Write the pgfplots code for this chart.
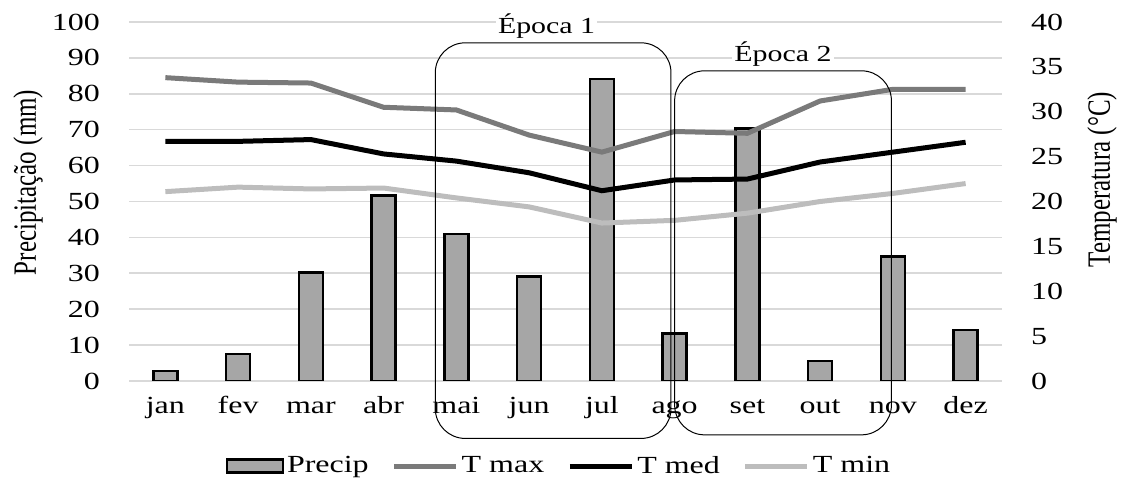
\documentclass[border=0pt]{standalone}
\usepackage{pgfplots}
\usepackage{pgfplotstable}
\pgfplotsset{compat=1.18}
\usepackage{fontspec}
\setmainfont[FakeStretch=1.3]{Liberation Serif}
\newfontfamily\plainfont{Liberation Serif}
\definecolor{barfill}{HTML}{A6A6A6}
\definecolor{tmax}{HTML}{7A7A7A}
\definecolor{tmin}{HTML}{BDBDBD}
\definecolor{gridc}{HTML}{D9D9D9}

\pgfplotstableread{
x precip tmax tmed tmin
0 2.8 33.8 26.7 21.1
1 7.5 33.3 26.7 21.6
2 30.2 33.2 26.9 21.4
3 51.6 30.5 25.3 21.5
4 40.9 30.2 24.5 20.4
5 29.1 27.4 23.2 19.4
6 84.1 25.5 21.2 17.6
7 13.3 27.8 22.4 17.9
8 70.4 27.6 22.5 18.7
9 5.6 31.2 24.4 20.0
10 34.6 32.5 25.5 20.9
11 14.2 32.5 26.6 22.0
}\datatable

\newcommand\tfont{\fontsize{12.3bp}{14bp}\selectfont}
\newcommand\lfont{\plainfont\fontsize{12.5bp}{14bp}\selectfont}

\pgfplotsset{common/.style={
  scale only axis, width=436.5bp, height=179.5bp,
  at={(64.5bp,50.5bp)}, anchor=south west,
  xmin=-0.5, xmax=11.5,
  axis line style={draw=none}, major tick length=0pt,
  tick label style={font=\tfont},
  /pgf/number format/assume math mode=true,
}}

\begin{document}
\begin{tikzpicture}
\useasboundingbox (0,0) rectangle (563bp,241bp);
\begin{axis}[common,
  ymin=0, ymax=100, ytick={0,10,...,100},
  xtick={0,...,11},
  xticklabels={jan,fev,mar,abr,mai,jun,jul,ago,set,out,nov,dez},
  xticklabel style={anchor=base, yshift=-16bp},
  yticklabel style={xshift=-11bp},
  ymajorgrids, grid style={gridc, line width=0.8bp},
  ylabel={\scalebox{1}[1.3]{\lfont Precipitação (mm)}},
  every axis y label/.style={at={(rel axis cs:-0.1157,0.553)}, rotate=90, anchor=center},
]
\addplot[ybar, bar width=12bp, fill=barfill, draw=black, line width=1.3bp] table[x=x,y=precip]{\datatable};
\end{axis}
\begin{axis}[common, clip=false,
  ymin=0, ymax=40, ytick={0,5,...,40},
  yticklabel pos=right, xtick=\empty,
  yticklabel style={xshift=11bp},
  ylabel={\scalebox{1}[1.3]{\lfont Temperatura (°C)}},
  every axis y label/.style={at={(rel axis cs:1.1146,0.561)}, rotate=90, anchor=center},
  legend columns=4,
  legend style={draw=none, at={(0.493,-0.237)}, anchor=center, font=\tfont,
    nodes={inner sep=1.5bp},
    /tikz/every even column/.append style={column sep=10bp}},
  legend image code/.code={\draw[#1] (0bp,0bp) -- (31bp,0bp);},
]
\addlegendimage{legend image code/.code={\draw[fill=barfill,draw=black,line width=1.2bp] (0bp,-3.2bp) rectangle (28bp,3.2bp);}}
\addlegendentry{Precip}
\addplot[tmax, line width=2.5bp] table[x=x,y=tmax]{\datatable};
\addlegendentry{T max}
\addplot[black, line width=2.5bp] table[x=x,y=tmed]{\datatable};
\addlegendentry{T med}
\addplot[tmin, line width=2.5bp] table[x=x,y=tmin]{\datatable};
\addlegendentry{T min}
\draw[black, line width=0.5bp, rounded corners=15bp] (axis cs:3.71,-6.4) rectangle (axis cs:6.95,37.68);
\draw[black, line width=0.5bp, rounded corners=15bp] (axis cs:7.0,-6.0) rectangle (axis cs:9.98,34.56);
\node[fill=white, inner sep=1bp, anchor=base, font=\fontsize{11.5bp}{13bp}\selectfont] at (axis cs:5.24,38.76) {Época 1};
\node[fill=white, inner sep=1bp, anchor=base, font=\fontsize{11.5bp}{13bp}\selectfont] at (axis cs:8.49,35.56) {Época 2};
\end{axis}
\end{tikzpicture}
\end{document}
